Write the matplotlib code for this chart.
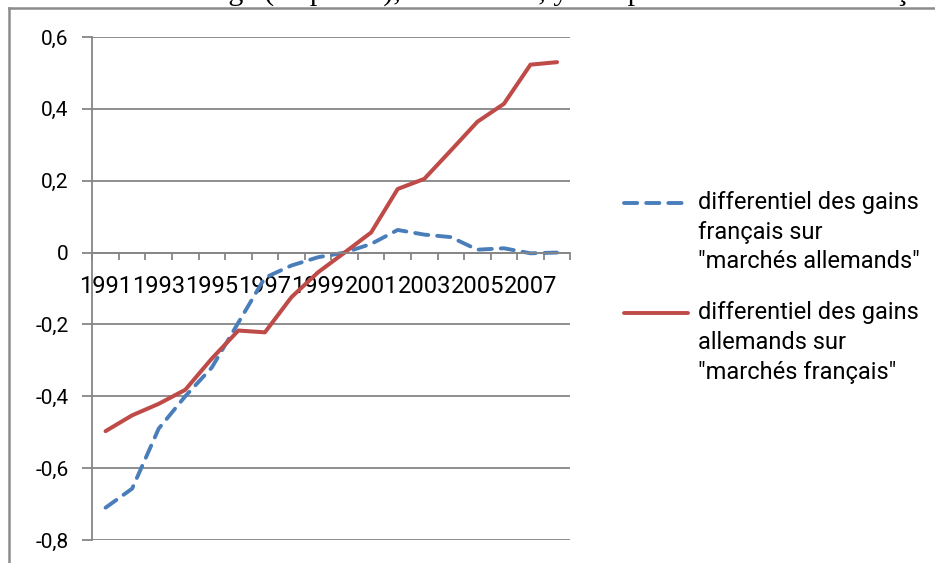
import matplotlib.pyplot as plt
from matplotlib.lines import Line2D

# Data
years = list(range(1991, 2009))
french_gains = [-0.71, -0.657, -0.49, -0.40, -0.32, -0.195, -0.07, -0.036, -0.013,
                0.0, 0.024, 0.063, 0.05, 0.043, 0.008, 0.012, -0.002, 0.0]
german_gains = [-0.497, -0.453, -0.421, -0.382, -0.295, -0.217, -0.222, -0.124, -0.055,
                0.0, 0.056, 0.177, 0.205, 0.284, 0.364, 0.414, 0.523, 0.530]
y_ticks = [-0.8, -0.6, -0.4, -0.2, 0, 0.2, 0.4, 0.6]
y_labels = ["-0,8", "-0,6", "-0,4", "-0,2", "0", "0,2", "0,4", "0,6"]
legend_labels = [
    ["differentiel des gains", "français sur", '"marchés allemands"'],
    ["differentiel des gains", "allemands sur", '"marchés français"'],
]
title = "Différentiel d'avantage (en points), 1991-2008, y compris marchés tiers français"

BLUE = "#4A7EBB"
RED = "#BE4B48"
GRID = "#868686"
DASH = (3.4, 2.3)
W, H = 935, 563

plt.rcParams["font.family"] = ["Roboto", "DejaVu Sans"]

fig = plt.figure(figsize=(W / 100, H / 100), dpi=100)
ax = fig.add_axes([92.3 / W, (H - 540) / H, 478 / W, 503 / H])

x = list(range(len(years)))
ax.plot(x, french_gains, color=BLUE, lw=2.8, dashes=DASH,
        dash_capstyle="round", solid_capstyle="round")
ax.plot(x, german_gains, color=RED, lw=2.9, solid_capstyle="round",
        solid_joinstyle="round")

ax.set_xlim(-0.5, len(years) - 0.5)
ax.set_ylim(-0.8, 0.6)

# y axis
ax.set_yticks(y_ticks)
ax.set_yticklabels(y_labels, fontsize=15)
ax.yaxis.grid(True, color=GRID, lw=1.3)
ax.tick_params(axis="y", length=7, width=1.3, color=GRID, pad=10)

# x axis crossing at 0, tick marks between categories
ax.spines["bottom"].set_position(("data", 0))
ax.spines["bottom"].set_color(GRID)
ax.spines["bottom"].set_linewidth(1.3)
ax.spines["left"].set_color(GRID)
ax.spines["left"].set_linewidth(1.3)
ax.spines["top"].set_visible(False)
ax.spines["right"].set_visible(False)
ax.set_xticks(x[::2])
ax.set_xticklabels([str(y) for y in years[::2]], fontsize=17)
ax.set_xticks([i - 0.5 for i in range(len(years) + 1)], minor=True)
ax.tick_params(axis="x", which="major", length=0, pad=16)
ax.tick_params(axis="x", which="minor", length=5, width=1.3, color=GRID)
ax.set_axisbelow(True)

# legend drawn by hand so the line sits on the first text row
for k, (color, rows) in enumerate(zip([BLUE, RED], legend_labels)):
    y0 = 203 + k * 110
    style = dict(color=color, lw=2.8, solid_capstyle="round", dash_capstyle="round")
    if k == 0:
        style["dashes"] = DASH
    fig.add_artist(Line2D([624 / W, 688 / W], [1 - y0 / H, 1 - y0 / H], **style))
    for j, row in enumerate(rows):
        fig.text(698 / W, 1 - (y0 + j * 29.5) / H, row, fontsize=17,
                 va="center", ha="left")

# outer chart frame
fig.add_artist(Line2D([9 / W, 9 / W], [0, 1 - 8 / H], color="#8C8C8C", lw=1.8))
fig.add_artist(Line2D([9 / W, 1], [1 - 8 / H, 1 - 8 / H], color="#8C8C8C", lw=1.8))

# cut-off title above the frame: only its lower part shows, as in the source
renderer = fig.canvas.get_renderer()
probe = fig.text(0, 0, "Différentiel d'avanta", family="Liberation Serif", fontsize=21.6)
offset = probe.get_window_extent(renderer).width
probe.remove()
fig.text((228 - offset) / W, 1 + 0.5 / H, title, family="Liberation Serif",
         fontsize=21.6, va="baseline", ha="left")

fig.savefig("out.png", dpi=100)
